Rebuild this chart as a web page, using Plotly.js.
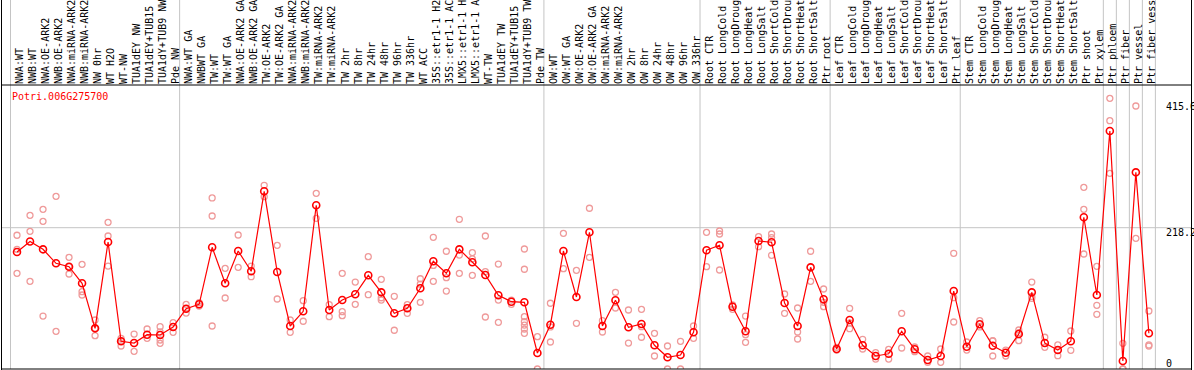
<!DOCTYPE html>
<html>
<head>
<meta charset="utf-8">
<script src="https://cdn.plot.ly/plotly-3.0.1.min.js"></script>
<style>html,body{margin:0;padding:0;background:#fff;}#chart{width:1194px;height:370px;}</style>
</head>
<body>
<div id="chart"></div>
<script>
const geneName = "Potri.006G275700";

const labels = [
"NWA:WT","NWB:WT","NWA:OE-ARK2","NWB:OE-ARK2","NWA:miRNA-ARK2","NWB:miRNA-ARK2","NW 0hr","WT H2O","WT-NW","TUA1dEY NW","TUA1dEY+TUB15 NW","TUA1dY+TUB9 NW","Pde NW",
"NWA:WT GA","NWBWT GA","TW:WT","TW:WT GA","NWA:OE-ARK2 GA","NWB:OE-ARK2 GA","TW:OE-ARK2","TW:OE-ARK2 GA","NWA:miRNA-ARK2 GA","NWB:miRNA-ARK2 GA","TW:miRNA-ARK2","TW:miRNA-ARK2",
"TW 2hr","TW 8hr","TW 24hr","TW 48hr","TW 96hr","TW 336hr","WT ACC","35S::etr1-1 H2O","35S::etr1-1 ACC","LMX5::etr1-1 H2O","LMX5::etr1-1 ACC","WT-TW","TUA1dEY TW","TUA1dEY+TUB15 TW","TUA1dY+TUB9 TW","Pde TW",
"OW:WT","OW:WT GA","OW:OE-ARK2","OW:OE-ARK2 GA","OW:miRNA-ARK2","OW:miRNA-ARK2","OW 2hr","OW 8hr","OW 24hr","OW 48hr","OW 96hr","OW 336hr",
"Root CTR","Root LongCold","Root LongDrought","Root LongHeat","Root LongSalt","Root ShortCold","Root ShortDrought","Root ShortHeat","Root ShortSalt","Ptr root",
"Leaf CTR","Leaf LongCold","Leaf LongDrought","Leaf LongHeat","Leaf LongSalt","Leaf ShortCold","Leaf ShortDrought","Leaf ShortHeat","Leaf ShortSalt","Ptr leaf",
"Stem CTR","Stem LongCold","Stem LongDrought","Stem LongHeat","Stem LongSalt","Stem ShortCold","Stem ShortDrought","Stem ShortHeat","Stem ShortSalt","Ptr shoot","Ptr xylem",
"Ptr phloem","Ptr fiber","Ptr vessel","Ptr fiber vessel"
];

const groupSizes = [13, 28, 12, 10, 10, 11, 1, 1, 1, 1];

const means = [
180.7,196.9,184.8,163.2,158,132.3,62.8,196.1,42.8,40.1,53,52.5,64.9,
93.1,99.9,187.9,132.3,182.2,150.9,274.4,149.8,66.4,89.1,252.8,91.1,
106.5,115.4,144.7,118.4,86,93.7,124.6,166.3,147.8,184.8,164.8,145.2,113.8,103.9,103,24.7,
68.4,182.2,111.2,211.1,66.4,106.1,64.4,69.5,36.6,18.1,21.6,56.7,
183.3,191,96.2,58.2,197.7,195.7,101.9,66.4,157,107.6,
30.9,75.7,36.6,20.1,23.6,58.2,30.4,13.9,20.1,120.4,
34.4,69,36,25.2,54,118.4,40.1,29.3,42.8,234.3,114.3,
367.5,12.4,303.7,55.1
];

const replicates = [
[206.5,184.8,147.8],[237.3,212.6,135.4],[246.6,228.1,81.8],[266.7,58.2],[172.5,158,146.7],[161.7,119.4,114.3],[75.7,62.8,51.4],[226.5,205.4,159],[47.4,42.8,35.5],[54,27.3],[61.8,47.4],[65.3,57.1,44.8,39.7],[71.5,56.7],
[99.9,93.1,86.3],[102.4,97.3],[264.1,236.3,66.4],[155.5,109.6],[206.9,157],[159,142.5],[283.7,266.1],[191,108.1],[75.7,56.7],[105.5,73.7],[271.3,232.7],[99.3,80.8],
[147.8,88.5,82.3],[134.3,99.9],[173.4,114.7],[138.5,110,106.5],[112.3,59.8],[99.3,86],[139.4,131,103],[203.4,160,135.4],[181.8,141,120.4],[231.2,176,147.8],[179.6,170,144.7],[205.4,150.3,80.3],[162.1,106.5,72.1],[106.5,99.9],[185.3,154,80.8,73,67.9,61.8,55.1],[49.9,0],
[101.5,64.9,41.7],[209.5,154.9],[152.4,70.6],[248.2,172.5],[74.6,57.1],[118.4,94.2],[91.1,40.1],[92.2,65.3,49],[55.1,20.1],[35.5,0],[42.8,0],[66.4,47.4],
[211.1,158],[213.1,208.5,152.9],[98.8,92.2],[81.8,53,41.2],[204.3,188.9],[208.5,203,175.6],[115.8,86],[94.2,57.1,46.3],[181.8,135.4],[123.5,103,96.2],
[33.5,29.3],[93.7,71,62.2],[45.9,30.9],[25.2,15.4],[30.4,15.4],[86,32.4],[34,26.7],[20.1,10.3],[30.9,10.3],[178.7,110.1,72.6],
[41.7,29.3],[74.6,64.9],[43.7,43.2,20.1],[29.3,20.1],[60.2,56,43.7],[134.3,112,109.2],[49,33.5],[37.1,20.5],[58.7,28.9],[280.6,246.6,177.6],[158.6,98.4,84.5],
[418,383.4,302.2],[39.7,0,0],[406.1,201.8],[89.6,37.1,35.5]
];

const yTickVals = [0, 218.2, 415.6];
const yTickText = ["0", "218.2", "415.6"];

// ---- build ----
const idx = labels.map((_, i) => i);
const repX = [], repY = [];
replicates.forEach((arr, i) => arr.forEach(v => { repX.push(i); repY.push(v); }));

const W = 1194, H = 370;
const mL = 2, mR = 2, mT = 85, mB = 1;
const plotW = W - mL - mR, plotH = H - mT - mB;
const pxPerCat = 13.01;
const firstCatPx = 17;
const x0 = (mL - firstCatPx) / pxPerCat;
const x1 = x0 + plotW / pxPerCat;
const yMax = plotH * 1.5442;
const topPaper = (H - mB) / plotH + 0.01;

const mono = "DejaVu Sans Mono, Liberation Mono, monospace";
const gridCol = "#c4c4c4";

// group boundaries
const bounds = [-0.5];
let acc = -0.5;
groupSizes.forEach(s => { acc += s; bounds.push(acc); });

const shapes = bounds.map(b => ({
  type: "line", xref: "x", yref: "paper", x0: b, x1: b, y0: 0, y1: topPaper,
  line: {color: gridCol, width: 1}, layer: "below"
}));
shapes.push({type:"line", xref:"paper", yref:"y", x0:0, x1:1, y0:yTickVals[1], y1:yTickVals[1], line:{color:gridCol,width:1}, layer:"below"});
// frame
const pxToPaperX = px => (px - mL) / plotW;
shapes.push({type:"line", xref:"paper", yref:"paper", x0:pxToPaperX(1.5), x1:pxToPaperX(1.5), y0:-0.01, y1:topPaper, line:{color:"#000",width:1}});
shapes.push({type:"line", xref:"paper", yref:"paper", x0:pxToPaperX(1191.5), x1:pxToPaperX(1191.5), y0:-0.01, y1:topPaper, line:{color:"#000",width:1}});
shapes.push({type:"line", xref:"paper", yref:"paper", x0:pxToPaperX(1.5), x1:pxToPaperX(1191.5), y0:1, y1:1, line:{color:"#000",width:1}});
shapes.push({type:"line", xref:"paper", yref:"paper", x0:pxToPaperX(1.5), x1:pxToPaperX(1191.5), y0:0, y1:0, line:{color:"#000",width:1}});

const yShifts = [6, -4.6, -6.8];
const annotations = yTickVals.map((v, k) => ({
  xref: "paper", yref: "y", x: pxToPaperX(1164), y: v, xanchor: "left", yanchor: "middle",
  text: yTickText[k], showarrow: false, yshift: yShifts[k],
  font: {family: mono, size: 10, color: "#000"}
}));
annotations.push({
  xref: "paper", yref: "paper", x: pxToPaperX(9.5), y: 1 - (97 - mT) / plotH,
  xanchor: "left", yanchor: "middle", text: geneName, showarrow: false,
  font: {family: mono, size: 10, color: "#ff0000"}
});

const traces = [
  {x: repX, y: repY, type: "scatter", mode: "markers", hoverinfo: "skip",
   marker: {symbol: "circle-open", size: 6, color: "#ef9a9a", line: {width: 1.3, color: "#ef9a9a"}}},
  {x: idx, y: means, type: "scatter", mode: "lines+markers",
   line: {color: "#ff0000", width: 1.2},
   marker: {symbol: "circle-open", size: 7, color: "#ff0000", line: {width: 1.6, color: "#ff0000"}}}
];

const layout = {
  width: W, height: H,
  margin: {l: mL, r: mR, t: mT, b: mB, pad: 0},
  paper_bgcolor: "#fff", plot_bgcolor: "#fff",
  showlegend: false,
  xaxis: {
    range: [x0, x1], side: "top", tickmode: "array", tickvals: idx, ticktext: labels,
    tickangle: -90, ticks: "", showgrid: false, zeroline: false, showline: false,
    tickfont: {family: mono, size: 10, color: "#000"}, ticklabelshift: 3, fixedrange: true
  },
  yaxis: {
    range: [0, yMax], showticklabels: false, ticks: "", showgrid: false, zeroline: false, showline: false, fixedrange: true
  },
  shapes: shapes,
  annotations: annotations
};

Plotly.newPlot("chart", traces, layout, {displayModeBar: false, staticPlot: true});
</script>
</body>
</html>
